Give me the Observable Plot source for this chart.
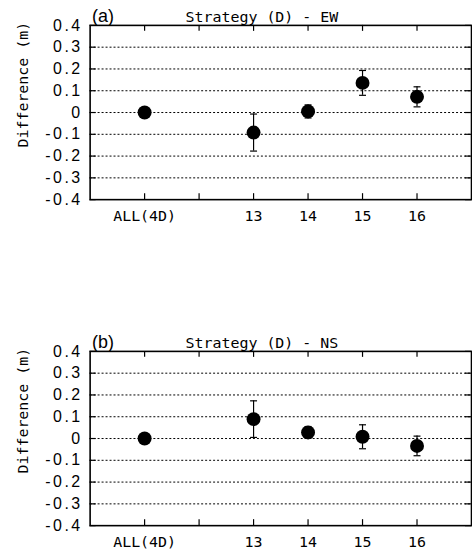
<!DOCTYPE html>
<html>
<head>
<meta charset="utf-8">
<script src="https://cdn.jsdelivr.net/npm/d3@7"></script>
<script src="https://cdn.jsdelivr.net/npm/@observablehq/plot@0.6"></script>
<style>
  html, body { margin: 0; padding: 0; background: #fff; overflow: hidden; }
  #wrap { width: 472px; height: 558px; overflow: hidden; position: relative; }
  #wrap svg { display: block; background: #fff; }
  #wrap g[aria-label="y-axis tick label"] { letter-spacing: 2.5px; }
</style>
</head>
<body>
<div id="wrap"></div>
<script>
// ---- data ----
const categories = ["ALL(4D)", "", "13", "14", "15", "16"];
const ewValues = [0, null, -0.092, 0.005, 0.136, 0.072];
const ewErrors = [0, null, 0.085, 0.030, 0.057, 0.046];
const nsValues = [0, null, 0.089, 0.028, 0.008, -0.034];
const nsErrors = [0, null, 0.084, 0.027, 0.055, 0.045];
const yTicks = [0.4, 0.3, 0.2, 0.1, 0, -0.1, -0.2, -0.3, -0.4];
const gridLines = [0.3, 0.2, 0.1, 0, -0.1, -0.2, -0.3];
const panelTags = ["(a)", "(b)"];
const panelTitles = ["Strategy (D) - EW", "Strategy (D) - NS"];
const yLabel = "Difference (m)";

const tickPositions = categories.map((c, i) => i + 1);
const monoFont = "'DejaVu Sans Mono', monospace";
const sansFont = "'Liberation Sans', Arial, sans-serif";

// cap symbol for error bars
const capSymbol = {
  draw(ctx, size) {
    ctx.moveTo(-3.5, 0);
    ctx.lineTo(3.5, 0);
  }
};

function panel(values, errors, tag, title, height, marginBottom) {
  const data = categories.map((c, i) => ({pos: i + 1, v: values[i], e: errors[i]}))
    .filter(d => d.v !== null);
  const errData = data.filter(d => d.e > 0);
  return Plot.plot({
    width: 474,
    height: height,
    marginTop: 25,
    marginBottom: marginBottom,
    marginLeft: 90,
    marginRight: 1,
    style: {background: "#fff", color: "#000", overflow: "visible"},
    x: {domain: [0, 7], axis: null},
    y: {domain: [-0.4, 0.4], axis: null},
    marks: [
      Plot.ruleY(gridLines, {stroke: "#000", strokeWidth: 1, strokeDasharray: "2,2"}),
      // inward ticks on all four sides
      Plot.tickX(tickPositions, {x: d => d, insetTop: 169, stroke: "#000", strokeWidth: 1.2}),
      Plot.tickX(tickPositions, {x: d => d, insetBottom: 169, stroke: "#000", strokeWidth: 1.2}),
      Plot.tickY(yTicks, {y: d => d, insetLeft: 377, stroke: "#000", strokeWidth: 1.2}),
      Plot.tickY(yTicks, {y: d => d, insetRight: 377, stroke: "#000", strokeWidth: 1.2}),
      Plot.frame({stroke: "#000", strokeWidth: 1.6}),
      // error bars
      Plot.ruleX(errData, {x: "pos", y1: d => d.v - d.e, y2: d => d.v + d.e, stroke: "#000", strokeWidth: 1.2}),
      Plot.dot(errData, {x: "pos", y: d => d.v + d.e, symbol: capSymbol, stroke: "#000", strokeWidth: 1.2}),
      Plot.dot(errData, {x: "pos", y: d => d.v - d.e, symbol: capSymbol, stroke: "#000", strokeWidth: 1.2}),
      Plot.dot(data, {x: "pos", y: "v", r: 7, fill: "#000", stroke: "none"}),
      // axes
      Plot.axisY(yTicks, {
        tickSize: 0, tickPadding: 7.5, fontSize: 16, fontFamily: sansFont,
        tickFormat: d => d === 0 ? "0" : d.toFixed(1),
        label: null
      }),
      Plot.axisX(tickPositions, {
        tickSize: 0, tickPadding: 11, fontSize: 15, fontFamily: monoFont,
        tickFormat: d => categories[d - 1], label: null
      }),
      // labels
      Plot.text([tag], {frameAnchor: "top-left", text: d => d, textAnchor: "start",
        lineAnchor: "bottom", dx: 2, dy: -3, fontSize: 18, fontFamily: sansFont}),
      Plot.text([title], {frameAnchor: "top", text: d => d, lineAnchor: "bottom",
        dx: -19, dy: -3, fontSize: 15, fontFamily: monoFont}),
      Plot.text([yLabel], {frameAnchor: "left", text: d => d, rotate: -90,
        textAnchor: "middle", lineAnchor: "middle",
        dx: -67, dy: -28, fontSize: 15, fontFamily: monoFont})
    ]
  });
}

const wrap = document.getElementById("wrap");
wrap.appendChild(panel(ewValues, ewErrors, panelTags[0], panelTitles[0], 327, 127));
wrap.appendChild(panel(nsValues, nsErrors, panelTags[1], panelTitles[1], 231, 31));
</script>
</body>
</html>
